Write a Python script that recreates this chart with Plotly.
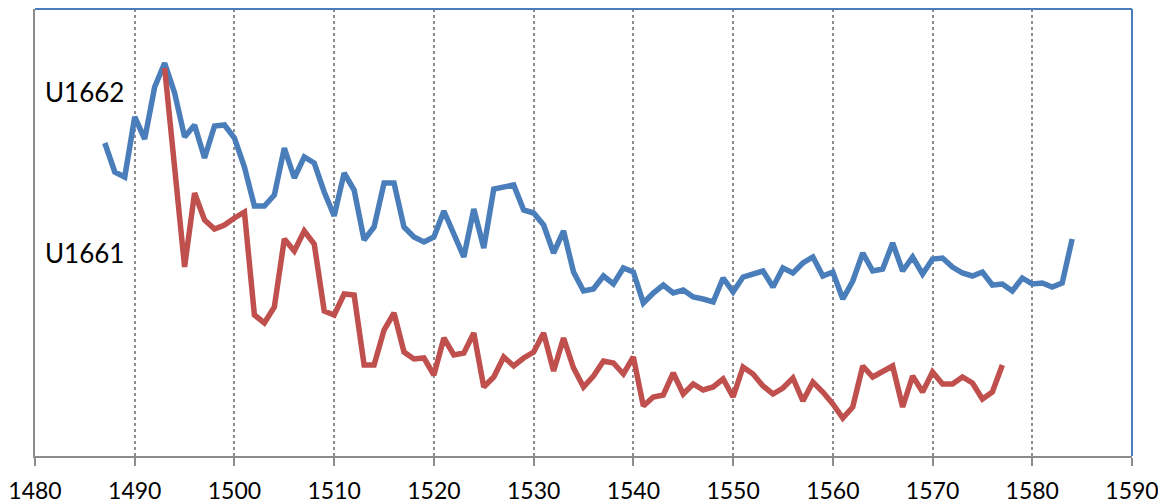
import plotly.graph_objects as go

blue_years = list(range(1487, 1585))
blue_vals = [313, 284, 279, 339, 317, 369, 393, 363, 319, 331,
             298, 330, 331, 318, 289, 250, 250, 261, 308, 278,
             299, 293, 264, 240, 283, 266, 216, 229, 273, 273,
             229, 219, 214, 219, 245, 223, 199, 247, 208, 267,
             269, 271, 246, 243, 231, 203, 225, 184, 165, 167,
             180, 172, 188, 184, 153, 163, 171, 163, 166, 159,
             157, 154, 178, 164, 179, 182, 185, 169, 188, 183,
             193, 199, 180, 184, 157, 175, 203, 185, 187, 213,
             185, 199, 182, 197, 198, 189, 183, 180, 184, 171,
             172, 165, 178, 172, 173, 169, 173, 217]

red_years = list(range(1493, 1578))
red_vals = [388, 293, 189, 263, 236, 227, 231, 238, 244, 141,
            133, 149, 217, 205, 225, 212, 145, 141, 162, 161,
            91, 91, 126, 143, 104, 97, 98, 81, 118, 101,
            103, 123, 69, 79, 99, 90, 98, 104, 123, 85,
            118, 88, 69, 80, 95, 93, 82, 99, 50, 59,
            61, 83, 62, 72, 66, 69, 77, 59, 89, 82,
            70, 62, 68, 78, 55, 74, 64, 52, 38, 49,
            90, 79, 85, 90, 49, 80, 64, 84, 72, 72,
            79, 73, 57, 64, 91]

labels = ["U1662", "U1661"]
label_x = [1485, 1485]
label_y = [364, 203]

tick_vals = list(range(1480, 1591, 10))

BLUE = "#4A7EBB"
RED = "#C0504D"
FONT = "Lato, 'Open Sans', sans-serif"

fig = go.Figure()
fig.add_trace(go.Scatter(x=blue_years, y=blue_vals, mode="lines",
                         line=dict(color=BLUE, width=5.5), name=labels[0]))
fig.add_trace(go.Scatter(x=red_years, y=red_vals, mode="lines",
                         line=dict(color=RED, width=5.5), name=labels[1]))

for t, xx, yy in zip(labels, label_x, label_y):
    fig.add_annotation(x=xx, y=yy, text=t, showarrow=False,
                       xanchor="center", yanchor="middle",
                       font=dict(size=26, color="#000000", family=FONT))

# top and right frame lines (blue)
fig.add_shape(type="line", xref="paper", yref="paper", x0=0, x1=1, y0=1, y1=1,
              line=dict(color=BLUE, width=2))
fig.add_shape(type="line", xref="paper", yref="paper", x0=1, x1=1, y0=0, y1=1,
              line=dict(color=BLUE, width=2))

fig.update_layout(
    width=1158, height=496,
    margin=dict(l=27, r=34, t=1, b=48),
    plot_bgcolor="white", paper_bgcolor="white",
    showlegend=False,
    font=dict(family=FONT, color="#000000"),
)
fig.update_xaxes(
    range=[1480, 1590], tickvals=tick_vals,
    showgrid=True, gridcolor="#8c8c8c", gridwidth=1.5, griddash="dot",
    showline=True, linecolor="#8c8c8c", linewidth=2,
    ticks="outside", ticklen=8, tickwidth=2, tickcolor="#8c8c8c",
    tickfont=dict(size=23, color="#000000", family=FONT),
    ticklabelstandoff=5,
    zeroline=False,
)
fig.update_yaxes(
    range=[0, 447], showgrid=False, showticklabels=False,
    showline=True, linecolor="#8c8c8c", linewidth=2, ticks="",
    zeroline=False,
)

fig.write_html("out.html")
